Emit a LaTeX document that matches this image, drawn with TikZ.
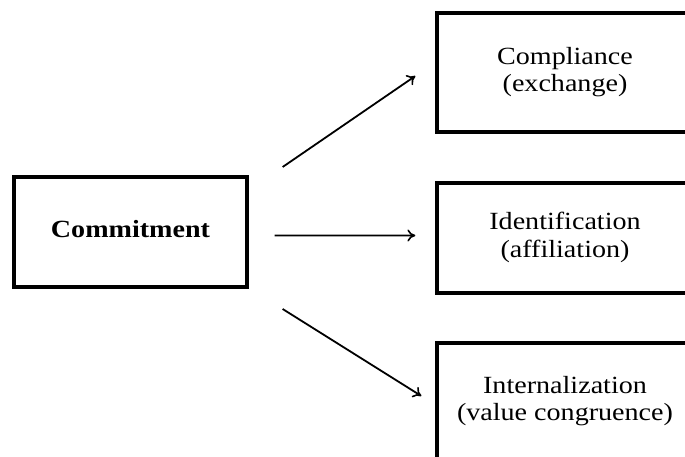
\documentclass[tikz,border=0pt]{standalone}
\usepackage{fontspec}
\setmainfont{Liberation Serif}
\usetikzlibrary{arrows.meta,calc}
\newcommand{\boxtext}[1]{\scalebox{1.17}[1.03]{\begin{tabular}{@{}c@{}}#1\end{tabular}}}
\begin{document}
\begin{tikzpicture}[x=1bp,y=-1bp,
  framebox/.style={draw=black, line width=3.3bp, rectangle, inner sep=0pt,
    font=\fontsize{24bp}{26.5bp}\selectfont},
  link/.style={line width=1.8bp, -{To[length=8bp,width=12bp,line width=1.6bp]}}]
  \useasboundingbox (0,0) rectangle (685,457);
  \clip (0,0) rectangle (685,457);
  % source box
  \node[framebox, minimum width=233bp, minimum height=110bp] (commit) at (130.5,232)
    {\boxtext{\bfseries Commitment}};
  % the three outcome boxes (they run past the right edge)
  \node[framebox, minimum width=256bp, minimum height=119bp] (compl) at (565,72.5)
    {\boxtext{Compliance\\(exchange)}};
  \node[framebox, minimum width=256bp, minimum height=110bp] (ident) at (565,238)
    {\boxtext{Identification\\(affiliation)}};
  \node[framebox, minimum width=256bp, minimum height=117bp] (inter) at (565,401.5)
    {\boxtext{Internalization\\(value congruence)}};
  % arrow end points, kept clear of the boxes
  \coordinate (upS) at ($(commit.east)+(34,-65)$);
  \coordinate (upE) at ($(compl.west)+(-20,3.5)$);
  \coordinate (midS) at ($(commit.east)+(26,3.5)$);
  \coordinate (midE) at ($(ident.west)+(-20,-2.5)$);
  \coordinate (loS) at ($(commit.east)+(34,77)$);
  \coordinate (loE) at ($(inter.west)+(-14,-5.5)$);
  \draw[link] (upS) -- (upE);
  \draw[link] (midS) -- (midE);
  \draw[link] (loS) -- (loE);
\end{tikzpicture}
\end{document}
